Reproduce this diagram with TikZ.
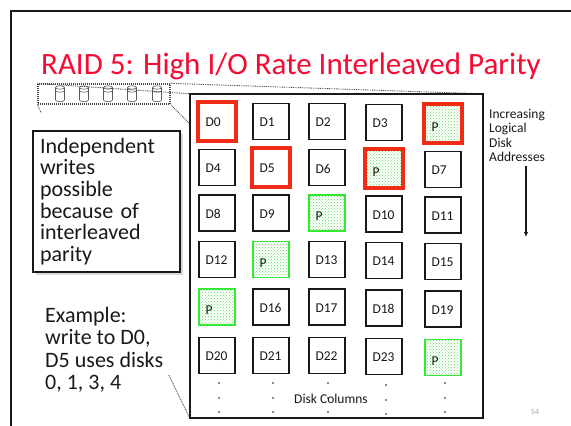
\documentclass[tikz,border=0pt]{standalone}
\usepackage{fontspec}
\setmainfont{Carlito}
\usetikzlibrary{patterns,arrows.meta,calc}

\definecolor{titlered}{RGB}{245,10,50}
\definecolor{hotred}{RGB}{240,45,20}
\definecolor{pgreen}{RGB}{45,235,45}
\definecolor{dotgreen}{RGB}{100,220,100}
\definecolor{ink}{RGB}{25,25,25}

\def\paritykind{p}

\tikzset{
  cell/.style={draw=ink, line width=1.3pt, fill=white, minimum width=36pt,
    minimum height=36pt, inner sep=0pt},
  lbl/.style={anchor=west, xshift=7pt, yshift=-1pt, inner sep=0pt,
    font=\fontsize{13.5}{16}\selectfont, text=ink},
  plbl/.style={lbl, yshift=-2.5pt},
  pcell/.style={cell, draw=pgreen, line width=1.2pt, fill=white,
    postaction={pattern=crosshatch dots, pattern color=dotgreen}},
  hot/.style={draw=hotred, line width=4pt},
  callout/.style={draw=gray!60!black, line width=0.9pt, dash pattern=on 0.9pt off 0.9pt},
  arraybox/.style={draw=gray!55!black, line width=1.3pt, dash pattern=on 1pt off 1pt,
    minimum width=132pt, minimum height=20pt, inner sep=0pt},
  gridbox/.style={draw=ink, line width=1.6pt, fill=white, minimum width=293pt,
    minimum height=324pt, inner sep=0pt},
  drumline/.style={draw=gray!70!black, line width=0.6pt},
  drum/.pic={
    \draw[drumline] (0,-6.5) ellipse [x radius=4.5, y radius=1.7];
    \draw[drumline] (-4.5,-6.5) -- (-4.5,6)
      arc [start angle=180, end angle=0, x radius=4.5, y radius=1.7] -- (4.5,-6.5);
    \draw[drumline] (-4.5,-3.5) arc [start angle=180, end angle=0, x radius=4.5, y radius=1.7];
  },
  bigtext/.style={font=\fontsize{22}{22.5}\selectfont, text=ink, align=left},
}

\begin{document}
\begin{tikzpicture}[x=1pt,y=-1pt]
\useasboundingbox (0,0) rectangle (571,426);

% slide frame
\draw[ink, line width=2pt] (10.5,426) -- (10.5,10.5) -- (571,10.5);

% title
\node[anchor=base west, inner sep=0pt, text=titlered,
  font=\fontsize{31}{37}\selectfont] (title) at (41,74)
  {RAID 5: High I/O Rate Interleaved Parity};

% small disk array icon
\foreach \x in {60,84,108,132,157} \pic at (\x,94) {drum};
\node[arraybox] (array) at (104,94) {};

% enlarged array frame (named first so the zoom lines can reach it)
\path (336.5,256) node[minimum width=293pt, minimum height=324pt, inner sep=0pt] (gridref) {};

% zoom lines from the icon to the enlarged array
\draw[callout] (array.north west) -- (gridref.north west);
\draw[callout] (array.north east) -- (gridref.north east);
\draw[callout] (array.south west) -- (gridref.south west);
\draw[callout] (array.south east) -- (gridref.south east);
% the lower-left zoom line runs behind the text area
\fill[white] (35,113) rectangle (169.5,375);

% enlarged array
\node[gridbox] (grid) at (336.5,256) {};

% cells: row, column, text, kind (n = data, p = parity)
\foreach \r/\c/\t/\k in {
  0/0/D0/n, 0/1/D1/n, 0/2/D2/n, 0/3/D3/n, 0/4/P/p,
  1/0/D4/n, 1/1/D5/n, 1/2/D6/n, 1/3/P/p, 1/4/D7/n,
  2/0/D8/n, 2/1/D9/n, 2/2/P/p, 2/3/D10/n, 2/4/D11/n,
  3/0/D12/n, 3/1/P/p, 3/2/D13/n, 3/3/D14/n, 3/4/D15/n,
  4/0/P/p, 4/1/D16/n, 4/2/D17/n, 4/3/D18/n, 4/4/D19/n,
  5/0/D20/n, 5/1/D21/n, 5/2/D22/n, 5/3/D23/n, 5/4/P/p}{
  \pgfmathsetmacro{\cx}{{217,271,327,384,443}[\c]}
  \pgfmathsetmacro{\cy}{{121.5,167.5,213,259.5,307,355.5}[\r]+{0,0,0,1,2}[\c]}
  \ifx\k\paritykind
    \node[pcell, label={[plbl]west:\t}] (c\r\c) at (\cx,\cy) {};
  \else
    \node[cell, label={[lbl]west:\t}] (c\r\c) at (\cx,\cy) {};
  \fi
}

% cells touched by writing D0 and D5
\foreach \n in {c00,c11,c04,c13}
  \draw[hot] ([xshift=-0.8pt,yshift=0.8pt]\n.north west) rectangle ([xshift=0.8pt,yshift=-0.8pt]\n.south east);

% continuation dots under each column
\foreach \x/\d in {219/0,273/0,328/0,386/2,445/0}
  \foreach \y in {383,398,412}
    \fill[ink] (\x,\y+\d) circle (0.8);
\node[font=\fontsize{13.5}{16}\selectfont, text=ink, inner sep=0pt] (cols) at (331,399) {Disk Columns};

% address direction
\node[anchor=north west, inner sep=0pt, font=\fontsize{13.5}{14.5}\selectfont,
  text=ink, align=left] (addr) at (489,108.8) {Increasing\\Logical\\Disk\\Addresses};
\coordinate (atop) at (526,166);
\coordinate (abot) at (526,237);
\draw[ink, line width=1.5pt, -{Latex[length=5pt,width=4.5pt]}] (atop) -- (abot);

% explanation box with shadow
\fill[gray!30] (35.5,133.5) rectangle (182.5,274.5);
\node[draw=ink, line width=1.2pt, fill=white, minimum width=147pt, minimum height=141pt,
  text width=133pt, inner xsep=7pt, inner ysep=0pt, bigtext, font=\fontsize{22}{21.7}\selectfont]
  (why) at (106.5,201.5) {Independent\\writes\\possible\\because of\\interleaved\\parity};

% worked example
\node[anchor=north west, inner sep=0pt, bigtext] (example) at (45,307)
  {Example:\\write to D0,\\D5 uses disks\\0, 1, 3, 4};

% slide number
\node[font=\fontsize{8}{9}\selectfont, text=gray!70, inner sep=0pt] (pagenum) at (535,412) {54};
\end{tikzpicture}
\end{document}
